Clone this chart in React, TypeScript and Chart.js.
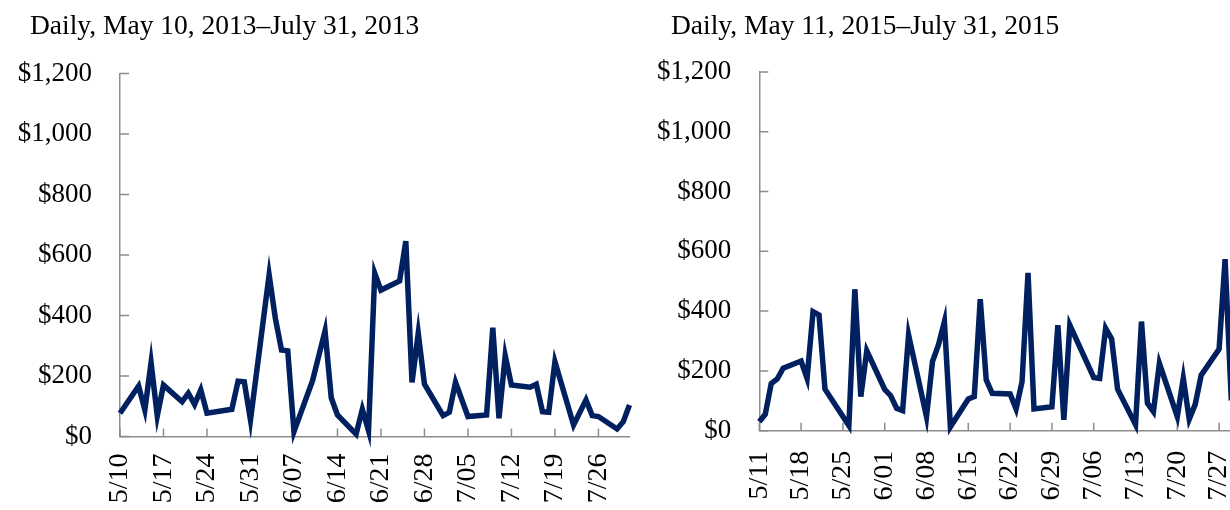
import React, { useEffect, useRef } from 'react';
import { Chart, registerables } from 'chart.js';

Chart.register(...registerables);

// ---------- DATA ----------
const title2013 = 'Daily, May 10, 2013–July 31, 2013';
const title2015 = 'Daily, May 11, 2015–July 31, 2015';

const dates2013 = [
  '5/10', '5/13', '5/14', '5/15', '5/16', '5/17', '5/20', '5/21', '5/22', '5/23', '5/24',
  '5/28', '5/29', '5/30', '5/31', '6/03', '6/04', '6/05', '6/06', '6/07', '6/10', '6/12',
  '6/13', '6/14', '6/17', '6/18', '6/19', '6/20', '6/21', '6/24', '6/25', '6/26', '6/27',
  '6/28', '7/01', '7/02', '7/03', '7/05', '7/08', '7/09', '7/10', '7/11', '7/12', '7/15',
  '7/16', '7/17', '7/18', '7/19', '7/22', '7/24', '7/25', '7/26', '7/29', '7/30', '7/31',
];
const values2013 = [
  77, 167, 88, 244, 68, 170, 115, 143, 106, 154, 77,
  90, 183, 181, 55, 534, 391, 286, 283, 16, 185, 349,
  128, 71, 8, 90, 19, 540, 484, 514, 646, 179, 341,
  173, 69, 80, 179, 66, 71, 360, 60, 267, 170, 163,
  173, 82, 80, 247, 38, 121, 69, 66, 25, 49, 104,
];
const ticks2013 = ['5/10', '5/17', '5/24', '5/31', '6/07', '6/14', '6/21', '6/28', '7/05', '7/12', '7/19', '7/26'];
const end2013 = '7/31';

const dates2015 = [
  '5/11', '5/12', '5/13', '5/14', '5/15', '5/18', '5/19', '5/20', '5/21', '5/22', '5/26',
  '5/27', '5/28', '5/29', '6/01', '6/02', '6/03', '6/04', '6/05', '6/08', '6/09', '6/10',
  '6/11', '6/12', '6/15', '6/16', '6/17', '6/18', '6/19', '6/22', '6/23', '6/24', '6/25',
  '6/26', '6/29', '6/30', '7/01', '7/02', '7/06', '7/07', '7/08', '7/09', '7/10', '7/13',
  '7/14', '7/15', '7/16', '7/17', '7/20', '7/21', '7/22', '7/23', '7/24', '7/27', '7/28',
  '7/29', '7/30', '7/31',
];
const values2015 = [
  30, 55, 158, 173, 209, 233, 175, 398, 387, 139, 17,
  473, 114, 267, 138, 117, 75, 67, 320, 47, 231, 287,
  365, 13, 106, 114, 440, 170, 125, 123, 73, 164, 528,
  73, 80, 353, 36, 353, 178, 175, 342, 307, 139, 21,
  365, 92, 64, 225, 47, 175, 39, 88, 186, 273, 574,
  120, 140, 110,
];
const ticks2015 = ['5/11', '5/18', '5/25', '6/01', '6/08', '6/15', '6/22', '6/29', '7/06', '7/13', '7/20', '7/27'];
const end2015 = '7/31';

const yTickValues = [0, 200, 400, 600, 800, 1000, 1200];

// ---------- STYLE ----------
const LINE_COLOR = '#002060';
const AXIS_COLOR = '#8c8c8c';
const TEXT_COLOR = '#000000';
const FONT = "'Liberation Serif', 'Times New Roman', serif";
const FONT_SIZE = 27;

function toUTC(year: number, label: string) {
  const [m, d] = label.split('/').map(Number);
  return Date.UTC(year, m - 1, d);
}

type PanelProps = {
  year: number;
  dates: string[];
  values: number[];
  tickLabels: string[];
  endLabel: string;
  left: number;
  width: number;
  height: number;
  yAxisWidth: number;
  padTop: number;
  padRight: number;
  xAxisHeight: number;
  xLabelPad: number;
};

function LinePanel(props: PanelProps) {
  const ref = useRef<HTMLCanvasElement>(null);
  useEffect(() => {
    const { year, dates, values, tickLabels, endLabel, yAxisWidth, padTop, padRight, xAxisHeight, xLabelPad } = props;
    const start = toUTC(year, tickLabels[0]);
    const day = (l: string) => Math.round((toUTC(year, l) - start) / 86400000);
    const points = dates.map((d, i) => ({ x: day(d), y: values[i] }));
    const tickDays = tickLabels.map(day);
    const maxDay = day(endLabel);

    const insideTicks = {
      id: 'insideTicks',
      beforeDatasetsDraw(chart: any) {
        const { ctx, chartArea, scales } = chart;
        ctx.save();
        ctx.strokeStyle = AXIS_COLOR;
        ctx.lineWidth = 1.5;
        ctx.beginPath();
        for (const v of tickDays) {
          const x = scales.x.getPixelForValue(v);
          ctx.moveTo(x, chartArea.bottom);
          ctx.lineTo(x, chartArea.bottom - 8);
        }
        for (const v of yTickValues) {
          const y = scales.y.getPixelForValue(v);
          ctx.moveTo(chartArea.left, y);
          ctx.lineTo(chartArea.left + 9, y);
        }
        ctx.stroke();
        ctx.restore();
      },
    };

    const chart = new Chart(ref.current as HTMLCanvasElement, {
      type: 'line',
      data: {
        datasets: [
          {
            data: points,
            borderColor: LINE_COLOR,
            backgroundColor: LINE_COLOR,
            borderWidth: 5.5,
            pointRadius: 0,
            tension: 0,
            fill: false,
            clip: false as any,
          },
        ],
      },
      options: {
        animation: false,
        responsive: false,
        events: [],
        layout: { padding: { top: padTop, left: 0, right: padRight, bottom: 0 } },
        plugins: {
          legend: { display: false },
          tooltip: { enabled: false },
          title: { display: false },
        },
        scales: {
          x: {
            type: 'linear',
            min: 0,
            max: maxDay,
            afterBuildTicks: (s: any) => {
              s.ticks = tickDays.map((v) => ({ value: v }));
            },
            afterFit: (s: any) => {
              s.height = xAxisHeight;
            },
            grid: { display: false, drawTicks: false, tickLength: 0 },
            border: { display: true, color: AXIS_COLOR, width: 1.5 },
            ticks: {
              autoSkip: false,
              minRotation: 90,
              maxRotation: 90,
              padding: xLabelPad,
              color: TEXT_COLOR,
              font: { family: FONT, size: 28 },
              callback: (v: any) => {
                const i = tickDays.indexOf(Math.round(Number(v)));
                return i >= 0 ? tickLabels[i] : '';
              },
            },
          },
          y: {
            type: 'linear',
            min: 0,
            max: 1200,
            afterBuildTicks: (s: any) => {
              s.ticks = yTickValues.map((v) => ({ value: v }));
            },
            afterFit: (s: any) => {
              s.width = yAxisWidth;
            },
            grid: { display: false, drawTicks: false, tickLength: 0 },
            border: { display: true, color: AXIS_COLOR, width: 1.5 },
            ticks: {
              padding: 28,
              color: TEXT_COLOR,
              font: { family: FONT, size: FONT_SIZE },
              callback: (v: any) => '$' + Number(v).toLocaleString('en-US'),
            },
          },
        },
      } as any,
      plugins: [insideTicks],
    });
    return () => chart.destroy();
  }, []);

  return (
    <canvas
      ref={ref}
      width={props.width}
      height={props.height}
      style={{ position: 'absolute', left: props.left, top: 0, width: props.width, height: props.height }}
    />
  );
}

const titleStyle = (left: number): React.CSSProperties => ({
  position: 'absolute',
  left,
  top: 11,
  fontFamily: FONT,
  fontSize: 27.5,
  lineHeight: '27px',
  color: TEXT_COLOR,
  whiteSpace: 'nowrap',
});

export default function App() {
  return (
    <div
      style={{
        position: 'fixed',
        left: 0,
        top: 0,
        width: 1230,
        height: 510,
        overflow: 'hidden',
        background: '#ffffff',
      }}
    >
      <LinePanel
        year={2013}
        dates={dates2013}
        values={values2013}
        tickLabels={ticks2013}
        endLabel={end2013}
        left={0}
        width={650}
        height={560}
        yAxisWidth={120}
        padTop={73.5}
        padRight={16}
        xAxisHeight={123.5}
        xLabelPad={17}
      />
      <LinePanel
        year={2015}
        dates={dates2015}
        values={values2015}
        tickLabels={ticks2015}
        endLabel={end2015}
        left={640}
        width={640}
        height={560}
        yAxisWidth={119.3}
        padTop={71.9}
        padRight={37}
        xAxisHeight={129.3}
        xLabelPad={20}
      />
      <div style={titleStyle(30)}>{title2013}</div>
      <div style={titleStyle(671)}>{title2015}</div>
    </div>
  );
}
